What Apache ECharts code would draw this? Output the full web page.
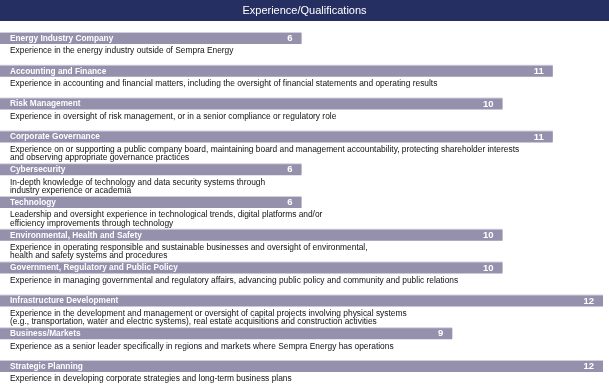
<!DOCTYPE html>
<html>
<head>
<meta charset="utf-8">
<script src="https://cdn.jsdelivr.net/npm/echarts@6/dist/echarts.min.js"></script>
<style>
html,body{margin:0;padding:0;background:#fff;}
#c{width:609px;height:384px;}
</style>
</head>
<body>
<div id="c"></div>
<script>
var title = 'Experience/Qualifications';
var categories = [
  'Energy Industry Company',
  'Accounting and Finance',
  'Risk Management',
  'Corporate Governance',
  'Cybersecurity',
  'Technology',
  'Environmental, Health and Safety',
  'Government, Regulatory and Public Policy',
  'Infrastructure Development',
  'Business/Markets',
  'Strategic Planning'
];
var values = [6, 11, 10, 11, 6, 6, 10, 10, 12, 9, 12];
var descriptions = [
  'Experience in the energy industry outside of Sempra Energy',
  'Experience in accounting and financial matters, including the oversight of financial statements and operating results',
  'Experience in oversight of risk management, or in a senior compliance or regulatory role',
  'Experience on or supporting a public company board, maintaining board and management accountability, protecting shareholder interests\nand observing appropriate governance practices',
  'In-depth knowledge of technology and data security systems through\nindustry experience or academia',
  'Leadership and oversight experience in technological trends, digital platforms and/or\nefficiency improvements through technology',
  'Experience in operating responsible and sustainable businesses and oversight of environmental,\nhealth and safety systems and procedures',
  'Experience in managing governmental and regulatory affairs, advancing public policy and community and public relations',
  'Experience in the development and management or oversight of capital projects involving physical systems\n(e.g., transportation, water and electric systems), real estate acquisitions and construction activities',
  'Experience as a senior leader specifically in regions and markets where Sempra Energy has operations',
  'Experience in developing corporate strategies and long-term business plans'
];

var FONT = '"Liberation Sans", Arial, sans-serif';
var BAR = '#9591ad';
var chart = echarts.init(document.getElementById('c'), null, {renderer: 'canvas'});
chart.setOption({
  animation: false,
  backgroundColor: '#ffffff',
  graphic: [
    {type: 'rect', left: 0, top: 0, shape: {width: 609, height: 21}, style: {fill: '#262f62'}, z: 10}
  ],
  title: {
    text: title, left: 'center', top: 5, padding: 0,
    textStyle: {color: '#ffffff', fontFamily: FONT, fontSize: 11, fontWeight: 'normal'},
    z: 20
  },
  grid: {left: 0, right: 6, top: 22.1, bottom: 1.1, containLabel: false},
  xAxis: {type: 'value', min: 0, max: 12, show: false},
  yAxis: {
    type: 'category', data: categories, inverse: true, show: false
  },
  series: [
    {
      type: 'bar', data: values, barWidth: 11, silent: true,
      itemStyle: {color: BAR, shadowColor: '#d2cfdd', shadowOffsetY: -1, shadowBlur: 0},
      label: {
        show: true, position: 'insideRight', distance: 9,
        color: '#ffffff', fontFamily: FONT, fontWeight: 'bold', fontSize: 9.5
      }
    },
    {
      type: 'bar', data: values, barWidth: 11, barGap: '-100%', silent: true,
      itemStyle: {color: 'rgba(0,0,0,0)'},
      label: {
        show: true, position: 'insideLeft', distance: 10, formatter: '{b}',
        color: '#ffffff', fontFamily: FONT, fontWeight: 'bold', fontSize: 8.3
      }
    },
    {
      type: 'bar', data: values, barWidth: 11, barGap: '-100%', silent: true,
      itemStyle: {color: 'rgba(0,0,0,0)'},
      label: {
        show: true, position: [10, 14], align: 'left', verticalAlign: 'top',
        formatter: function (p) { return descriptions[p.dataIndex]; },
        color: '#111111', fontFamily: FONT, fontSize: 8.4, lineHeight: 8.2
      }
    }
  ]
});
</script>
</body>
</html>
